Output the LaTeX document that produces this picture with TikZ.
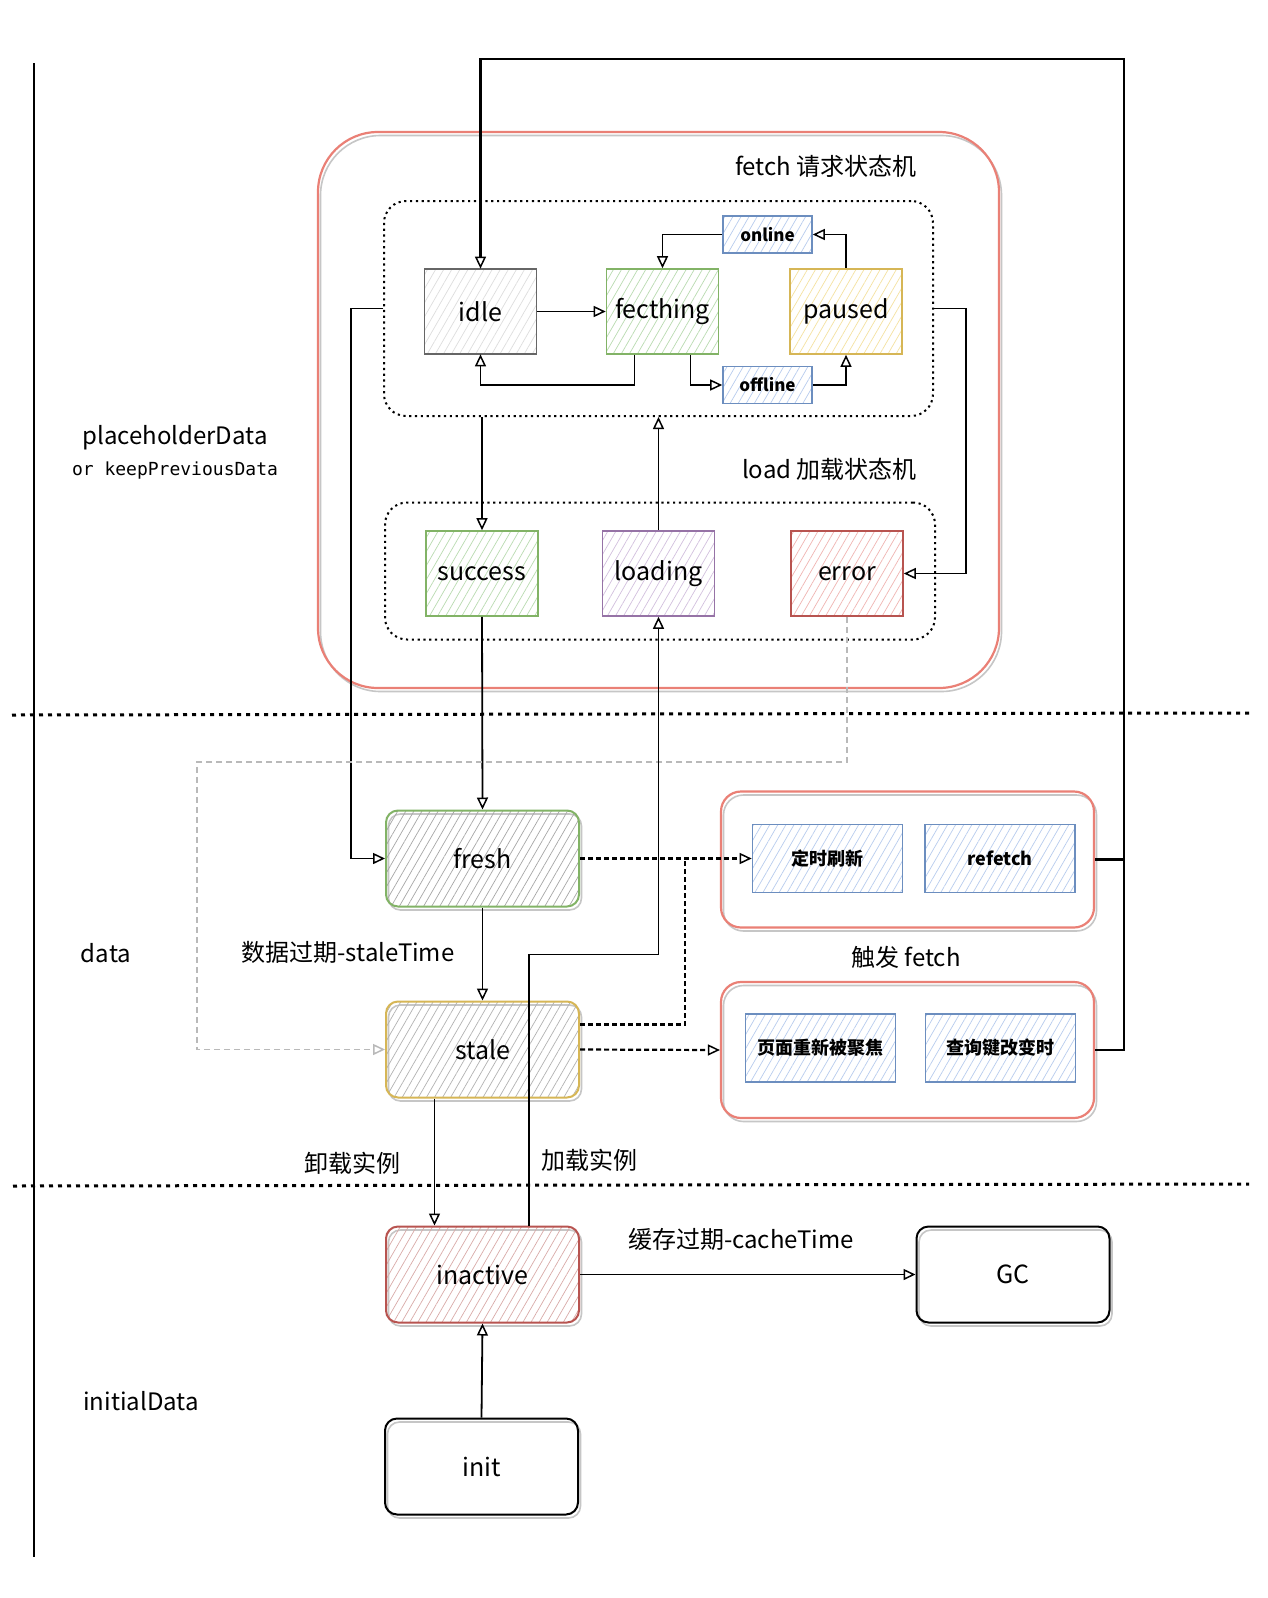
\documentclass[tikz,border=0pt]{standalone}
\usepackage{fontspec}
\setmainfont{Noto Sans CJK SC}
\newfontfamily\monof{DejaVu Sans Mono}
\usetikzlibrary{arrows.meta,patterns.meta,calc}
\definecolor{redL}{RGB}{234,128,118}
\definecolor{gB}{HTML}{82B366}
\definecolor{gF}{HTML}{B9DBB0}
\definecolor{yB}{HTML}{D6B656}
\definecolor{yF}{HTML}{F5E2A0}
\definecolor{bB}{HTML}{6C8EBF}
\definecolor{bF}{HTML}{B8CCEE}
\definecolor{pB}{HTML}{9673A6}
\definecolor{pF}{HTML}{D2C0DE}
\definecolor{rB}{HTML}{B85450}
\definecolor{rF}{HTML}{F0B5B2}
\definecolor{kB}{HTML}{666666}
\definecolor{kF}{HTML}{DDDDDD}
\tikzset{
  hatch/.style={pattern={Lines[angle=60,distance=7pt,line width=0.7pt]}, pattern color=#1},
  state/.style={draw=#1, line width=1.6pt, minimum width=112pt, minimum height=85pt, inner sep=0pt, font=\fontsize{25}{30}\selectfont},
  small/.style={draw=bB, line width=1.6pt, hatch=bF, minimum width=89pt, minimum height=37pt, inner sep=0pt, font=\bfseries\fontsize{17}{20}\selectfont},
  trig/.style={draw=bB, line width=1.6pt, hatch=bF, minimum width=150pt, minimum height=68pt, inner sep=0pt, font=\bfseries\fontsize{18}{22}\selectfont},
  sketch/.style={preaction={draw=gray!45, line width=1.6pt, transform canvas={xshift=2.5pt,yshift=-3.5pt}}},
  bigstate/.style={draw=#1, line width=2pt, rounded corners=12pt, minimum width=193pt, minimum height=96pt, inner sep=0pt, font=\fontsize{25}{30}\selectfont, sketch},
  redbox/.style={draw=redL, line width=2.2pt, sketch},
  dotbox/.style={draw=black, line width=2pt, dash pattern=on 2.2pt off 3.6pt, rounded corners=22pt, inner sep=0pt},
  lbl/.style={inner sep=0pt, font=\fontsize{24}{28}\selectfont},
  arr/.style={line width=1.8pt, -{Triangle[open, length=12pt, width=11pt, line width=1.5pt]}},
  dasharr/.style={arr, line width=2.2pt, dash pattern=on 5pt off 3pt},
  grayarr/.style={arr, draw=gray!55, line width=1.6pt, dash pattern=on 6pt off 4pt},
  sep/.style={line width=3pt, dash pattern=on 4pt off 5pt}
}
\begin{document}
\begin{tikzpicture}[x=1pt,y=-1pt]
\useasboundingbox (0,0) rectangle (1268,1598);
\fill[white] (0,0) rectangle (1268,1598);

% left axis and separators
\draw[line width=1.4pt] (34,63) -- (34,1557);
\draw[sep] (12,715) -- (1249,713);
\draw[sep] (13,1186) -- (1249,1184);

% section labels
\node[lbl] (ph) at (175,438) {placeholderData};
\node[inner sep=0pt, font=\monof\fontsize{18}{22}\selectfont] (kp) at (175,471) {or keepPreviousData};
\node[lbl] (dt) at (106,953) {data};
\node[lbl] (ini) at (141,1401) {initialData};

% fetch container
\node[redbox, rounded corners=60pt, minimum width=681pt, minimum height=556pt] (fetchbox) at (658.5,410) {};
\node[lbl, anchor=east] (fetchlbl) at (917,166) {fetch 请求状态机};
\node[lbl, anchor=east] (loadlbl) at (917,469) {load 加载状态机};
\node[dotbox, minimum width=549pt, minimum height=215pt] (dot1) at (658.5,308.5) {};
\node[dotbox, minimum width=550pt, minimum height=137pt] (dot2) at (660,571) {};

% fetch states
\node[state=kB, hatch=kF] (idle) at (480.5,311.5) {idle};
\node[state=gB, hatch=gF] (fecthing) at (662.5,311.5) {fecthing};
\node[state=yB, hatch=yF] (paused) at (846,311.5) {paused};
\node[small] (online) at (767.5,234.5) {online};
\node[small] (offline) at (767.5,385) {offline};

% load states
\node[state=gB, hatch=gF] (success) at (482,573.5) {success};
\node[state=pB, hatch=pF] (loading) at (658.5,573.5) {loading};
\node[state=rB, hatch=rF] (error) at (847,573.5) {error};

% data states
\node[bigstate=gB, hatch=gray!70] (fresh) at (482.5,858.5) {fresh};
\node[bigstate=yB, hatch=gray!60] (stale) at (482.5,1049.5) {stale};
\node[bigstate=rB, hatch=rF!80!gray] (inactive) at (482.5,1274.5) {inactive};
\node[bigstate=black] (gc) at (1013,1274.5) {GC};
\node[bigstate=black] (init) at (481.5,1466.5) {init};

% trigger boxes
\node[redbox, rounded corners=20pt, minimum width=373pt, minimum height=136pt] (trig1) at (907.5,859.5) {};
\node[redbox, rounded corners=20pt, minimum width=373pt, minimum height=136pt] (trig2) at (907.5,1050) {};
\node[trig] (timer) at (827.5,858.5) {定时刷新};
\node[trig] (refetch) at (1000,858.5) {refetch};
\node[trig] (focus) at (820.5,1048) {页面重新被聚焦};
\node[trig] (keychg) at (1000.5,1048) {查询键改变时};

% labels
\node[lbl] (stl) at (348,952) {数据过期-staleTime};
\node[lbl] (trl) at (906,957) {触发 fetch};
\node[lbl] (unl) at (352,1163) {卸载实例};
\node[lbl] (ldl) at (589,1160) {加载实例};
\node[lbl] (cal) at (741,1239) {缓存过期-cacheTime};

% coordinates
\coordinate (topR) at (1124,59);
\coordinate (gl) at (197,762);
\coordinate (jn) at (685,858.5);

% fetch state machine connectors
\draw[arr] (idle) -- (fecthing);
\draw[arr] ([xshift=-28pt]fecthing.south) -- ++(0,30) -| (idle.south);
\draw[arr] ([xshift=28pt]fecthing.south) |- (offline.west);
\draw[arr] (offline.east) -| (paused.south);
\draw[arr] (paused.north) |- (online.east);
\draw[arr] (online.west) -| (fecthing.north);

% top loop from triggers to idle
\draw[line width=2.4pt] (trig1.east) -- (trig1.east -| topR);
\draw[arr, line width=2.4pt] (trig2.east) -| (topR) -| (idle.north);

% between machines
\draw[arr] (dot1.south -| success.north) -- (success.north);
\draw[arr] (loading.north) -- (loading.north |- dot1.south);
\draw[arr] (dot1.east) -- ++(32,0) |- (error.east);
\draw[arr] (dot1.west) -- ++(-32,0) |- (fresh.west);
\draw[arr] (success.south) -- (fresh.north);
\draw[grayarr] (error.south) |- (gl) |- (stale.west);
\draw[arr] ([xshift=46.5pt]inactive.north) -- ++(0,-271) -| (loading.south);

% data connectors
\draw[arr] (fresh.south) -- (stale.north);
\draw[dasharr] (fresh.east) -- (timer.west);
\draw[line width=2.2pt, dash pattern=on 5pt off 3pt] ([yshift=25pt]stale.east) -| (jn);
\draw[dasharr] (stale.east) -- (trig2.west);
\draw[arr] ([xshift=-48pt]stale.south) -- ([xshift=-48pt]inactive.north);
\draw[arr] (inactive.east) -- (gc.west);
\draw[arr] (init.north) -- (inactive.south);
\end{tikzpicture}
\end{document}
